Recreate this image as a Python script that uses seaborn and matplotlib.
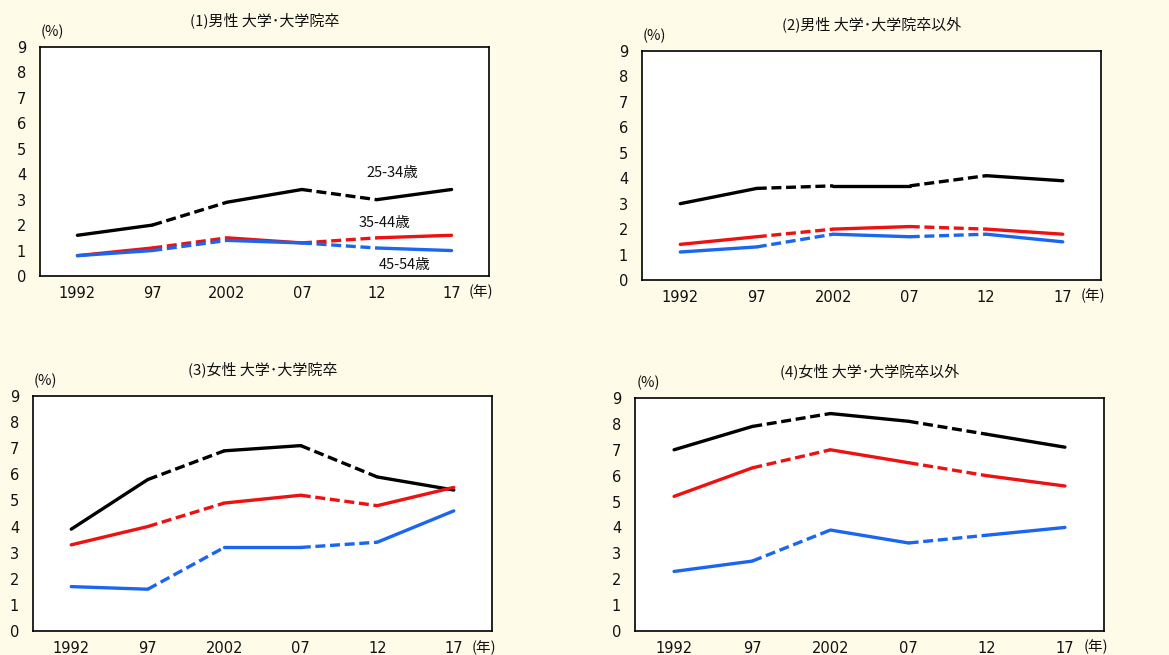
import matplotlib
matplotlib.use("Agg")
import matplotlib.pyplot as plt
import seaborn as sns
import pandas as pd

sns.set_theme(style="white")
plt.rcParams["font.family"] = ["Noto Sans CJK JP", "DejaVu Sans"]
num_font = ["DejaVu Sans", "Noto Sans CJK JP"]

# Survey years and tick labels
years = ["1992", "97", "2002", "07", "12", "17"]

# Series by age group (%)
m_univ_25_34 = [1.6, 2.0, 2.9, 3.4, 3.0, 3.4]
m_univ_35_44 = [0.8, 1.1, 1.5, 1.3, 1.5, 1.6]
m_univ_45_54 = [0.8, 1.0, 1.4, 1.3, 1.1, 1.0]

m_other_25_34 = [3.0, 3.6, 3.7, 3.7, 4.1, 3.9]
m_other_35_44 = [1.4, 1.7, 2.0, 2.1, 2.0, 1.8]
m_other_45_54 = [1.1, 1.3, 1.8, 1.7, 1.8, 1.5]

f_univ_25_34 = [3.9, 5.8, 6.9, 7.1, 5.9, 5.4]
f_univ_35_44 = [3.3, 4.0, 4.9, 5.2, 4.8, 5.5]
f_univ_45_54 = [1.7, 1.6, 3.2, 3.2, 3.4, 4.6]

f_other_25_34 = [7.0, 7.9, 8.4, 8.1, 7.6, 7.1]
f_other_35_44 = [5.2, 6.3, 7.0, 6.5, 6.0, 5.6]
f_other_45_54 = [2.3, 2.7, 3.9, 3.4, 3.7, 4.0]

age_groups = ["25-34歳", "35-44歳", "45-54歳"]
titles = ["(1)男性 大学･大学院卒", "(2)男性 大学･大学院卒以外",
          "(3)女性 大学･大学院卒", "(4)女性 大学･大学院卒以外"]
panels = [
    [m_univ_25_34, m_univ_35_44, m_univ_45_54],
    [m_other_25_34, m_other_35_44, m_other_45_54],
    [f_univ_25_34, f_univ_35_44, f_univ_45_54],
    [f_other_25_34, f_other_35_44, f_other_45_54],
]
# Segments (starting index) drawn dashed: 97-2002 and 07-12
dashed_segments = {1, 3}

colors = ["#000000", "#EE1111", "#1A66F0"]
bg = "#FEFBE8"
txt = "#111111"

W, H = 1169, 655
fig = plt.figure(figsize=(W / 100, H / 100), dpi=100, facecolor=bg)

# Axes boxes in pixels: left, top, right, bottom
boxes = [(40, 47, 489, 276), (642, 51, 1101, 280),
         (33, 396, 492, 631), (635, 398, 1104, 631)]

for p, (box, series, title) in enumerate(zip(boxes, panels, titles)):
    l, t, r, b = box
    ax = fig.add_axes([l / W, 1 - b / H, (r - l) / W, (b - t) / H])
    ax.set_facecolor("white")
    for s, vals in enumerate(series):
        for i in range(len(vals) - 1):
            seg = pd.DataFrame({"x": [i, i + 1], "y": [vals[i], vals[i + 1]]})
            ls = (0, (3.0, 1.4)) if i in dashed_segments else "-"
            sns.lineplot(data=seg, x="x", y="y", ax=ax, color=colors[s],
                         linewidth=2.4, linestyle=ls, solid_capstyle="round",
                         dash_capstyle="butt")
    ax.set_xlim(-0.5, 5.5)
    ax.set_ylim(0, 9)
    ax.set_xticks(range(len(years)))
    ax.set_xticklabels(years)
    ax.set_yticks(range(10))
    ax.set_xlabel("")
    ax.set_ylabel("")
    ax.tick_params(axis="both", length=0, labelsize=10.5, colors=txt)
    ax.tick_params(axis="y", pad=10)
    ax.tick_params(axis="x", pad=7)
    for lab in ax.get_xticklabels() + ax.get_yticklabels():
        lab.set_family(num_font)
    for sp in ax.spines.values():
        sp.set_visible(True)
        sp.set_color("black")
        sp.set_linewidth(1.2)
    ax.set_title(title, fontsize=10.8, color=txt, pad=16)
    ax.text(0.028, 1.035, "(%)", transform=ax.transAxes, fontsize=10.5,
            ha="center", va="bottom", color=txt)
    ax.text(0.982, -0.07, "(年)", transform=ax.transAxes, fontsize=10.5,
            ha="center", va="center", color=txt)
    if p == 0:
        ax.text(4.21, 4.05, age_groups[0], fontsize=10.5, color=txt,
                ha="center", va="center")
        ax.text(4.11, 2.09, age_groups[1], fontsize=10.5, color=txt,
                ha="center", va="center")
        ax.text(4.37, 0.43, age_groups[2], fontsize=10.5, color=txt,
                ha="center", va="center")

fig.savefig("out.png", dpi=100, facecolor=bg)
